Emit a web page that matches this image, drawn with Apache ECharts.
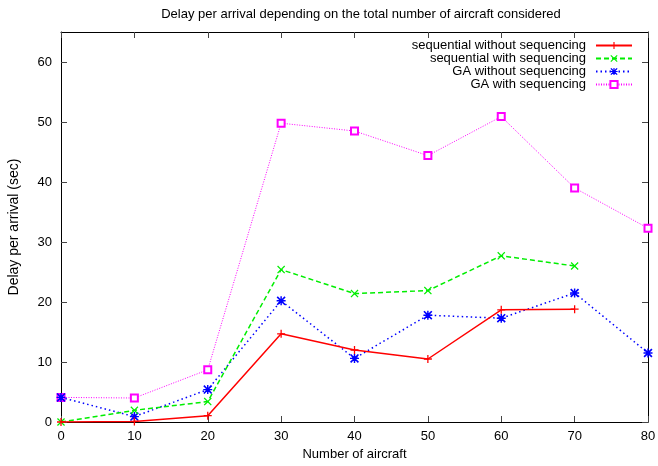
<!DOCTYPE html>
<html><head><meta charset="utf-8">
<script src="https://cdn.jsdelivr.net/npm/echarts@6/dist/echarts.min.js"></script>
<style>html,body{margin:0;padding:0;background:#fff}#c{width:658px;height:466px}</style>
</head><body><div id="c"></div>
<script>
const xValues = [0, 10, 20, 30, 40, 50, 60, 70, 80];
const seriesNames = ['sequential without sequencing', 'sequential with sequencing', 'GA without sequencing', 'GA with sequencing'];
const seqWithout = [0, 0.1, 1.05, 14.7, 12.0, 10.5, 18.7, 18.8, null];
const seqWith = [0, 1.95, 3.4, 25.4, 21.4, 21.9, 27.7, 26.0, null];
const gaWithout = [4.1, 0.9, 5.4, 20.2, 10.6, 17.8, 17.3, 21.5, 11.5];
const gaWith = [4.1, 4.0, 8.7, 49.8, 48.5, 44.4, 50.9, 39.0, 32.3];
const yTickValues = [0, 10, 20, 30, 40, 50, 60];
const titleText = 'Delay per arrival depending on the total number of aircraft considered';
const xName = 'Number of aircraft';
const yName = 'Delay per arrival (sec)';

const plusPath = 'path://M4.2,0 L5.8,0 L5.8,4.2 L10,4.2 L10,5.8 L5.8,5.8 L5.8,10 L4.2,10 L4.2,5.8 L0,5.8 L0,4.2 L4.2,4.2 Z';
const crossPath = 'path://M0,1.1 L1.1,0 L5,3.9 L8.9,0 L10,1.1 L6.1,5 L10,8.9 L8.9,10 L5,6.1 L1.1,10 L0,8.9 L3.9,5 Z';
const starPath = 'path://M4.2,0 L5.8,0 L5.8,4.2 L10,4.2 L10,5.8 L5.8,5.8 L5.8,10 L4.2,10 L4.2,5.8 L0,5.8 L0,4.2 L4.2,4.2 Z M0,1.3 L1.3,0 L5,3.7 L8.7,0 L10,1.3 L6.3,5 L10,8.7 L8.7,10 L5,6.3 L1.3,10 L0,8.7 L3.7,5 Z';

function pairs(vals) {
  const out = [];
  for (let i = 0; i < xValues.length; i++) {
    if (vals[i] !== null) out.push([xValues[i], vals[i]]);
  }
  return out;
}

const font = 'Liberation Sans, Arial, sans-serif';
const chart = echarts.init(document.getElementById('c'), null, {renderer: 'canvas'});
const lineCommon = {show: true, onZero: false, lineStyle: {color: '#000', width: 1}};
const tickStyle = {color: '#444', width: 1};
chart.setOption({
  animation: false,
  backgroundColor: '#fff',
  title: {
    text: titleText, left: 356, top: 3, textAlign: 'center',
    textStyle: {fontFamily: font, fontSize: 13, fontWeight: 'normal', color: '#000'}
  },
  legend: {
    orient: 'vertical', right: 25, top: 39, align: 'right', padding: 0,
    itemWidth: 36, itemHeight: 9, itemGap: 0,
    textStyle: {fontFamily: font, fontSize: 13, color: '#000', lineHeight: 12.8, padding: [0, 5, 0, 0]},
    data: seriesNames
  },
  grid: {left: 61, right: 10, top: 32, bottom: 44, containLabel: false, outerBoundsMode: 'none'},
  xAxis: [
    {
      type: 'value', min: 0, max: 80, interval: 10, position: 'bottom',
      name: xName, nameLocation: 'middle', nameGap: 26,
      nameTextStyle: {fontFamily: font, fontSize: 13, color: '#000'},
      axisLine: lineCommon, splitLine: {show: false},
      axisTick: {show: true, inside: true, length: 6, lineStyle: tickStyle},
      axisLabel: {fontFamily: font, fontSize: 13, color: '#000', margin: 8}
    },
    {
      type: 'value', min: 0, max: 80, interval: 10, position: 'top',
      axisLine: lineCommon, splitLine: {show: false},
      axisTick: {show: true, inside: true, length: 6, lineStyle: tickStyle},
      axisLabel: {show: false}
    }
  ],
  yAxis: [
    {
      type: 'value', min: 0, max: 65, interval: 10, position: 'left',
      name: yName, nameLocation: 'middle', nameGap: 40, nameRotate: 90,
      nameTextStyle: {fontFamily: font, fontSize: 14, color: '#000'},
      axisLine: lineCommon, splitLine: {show: false},
      axisTick: {show: true, inside: true, length: 6, lineStyle: tickStyle, customValues: yTickValues},
      axisLabel: {fontFamily: font, fontSize: 13, color: '#000', margin: 9, customValues: yTickValues}
    },
    {
      type: 'value', min: 0, max: 65, interval: 10, position: 'right',
      axisLine: lineCommon, splitLine: {show: false},
      axisTick: {show: true, inside: true, length: 6, lineStyle: tickStyle, customValues: yTickValues},
      axisLabel: {show: false}
    }
  ],
  series: [
    {
      name: seriesNames[0], type: 'line', data: pairs(seqWithout),
      symbol: plusPath, symbolSize: 8, showSymbol: true,
      lineStyle: {color: '#ff0000', width: 1.5, type: 'solid'},
      itemStyle: {color: '#ff0000'}, z: 4
    },
    {
      name: seriesNames[1], type: 'line', data: pairs(seqWith),
      symbol: crossPath, symbolSize: 8,
      lineStyle: {color: '#00ee00', width: 1.5, type: [5, 3]},
      itemStyle: {color: '#00ee00'}, z: 3
    },
    {
      name: seriesNames[2], type: 'line', data: pairs(gaWithout),
      symbol: starPath, symbolSize: 9,
      lineStyle: {color: '#0000ff', width: 1.5, type: [1.5, 3]},
      itemStyle: {color: '#0000ff'}, z: 2
    },
    {
      name: seriesNames[3], type: 'line', data: pairs(gaWith),
      symbol: 'emptyRect', symbolSize: 7,
      lineStyle: {color: '#ff00ff', width: 1, type: [1, 1.5]},
      itemStyle: {color: '#ff00ff', borderColor: '#ff00ff', borderWidth: 1.5}, z: 1
    }
  ]
});
</script>
</body></html>
